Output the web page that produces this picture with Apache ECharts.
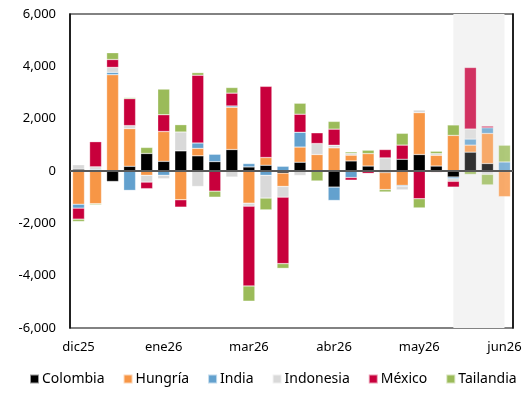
<!DOCTYPE html>
<html>
<head>
<meta charset="utf-8">
<script src="https://cdn.jsdelivr.net/npm/echarts@6/dist/echarts.min.js"></script>
<style>
  html, body { margin: 0; padding: 0; background: #fff; }
  #chart { width: 525px; height: 393px; }
</style>
</head>
<body>
<div id="chart"></div>
<script>
// Weekly flows by country (stacked), last three weeks shaded as estimates
const categories = ['w01','w02','w03','w04','w05','w06','w07','w08','w09','w10','w11','w12','w13',
                    'w14','w15','w16','w17','w18','w19','w20','w21','w22','w23','w24','w25','w26'];
const tickLabels = ['dic25', 'ene26', 'mar26', 'abr26', 'may26', 'jun26'];
const seriesNames = ['Colombia', 'Hungría', 'India', 'Indonesia', 'México', 'Tailandia'];

const colombia  = [70, 0, -400, 180, 670, 370, 770, 580, 360, 820, 155, 220, -80, 335, 0, -615, 385, 190, -60, 450, 630, 190, -230, 720, 285, -20];
const hungria   = [-1270, -1250, 3680, 1440, -165, 1140, -1100, 285, 0, 1615, -1230, 295, -510, 580, 630, 885, 220, 475, -650, -550, 1600, 410, 1360, 270, 1150, -960];
const india     = [-150, 60, 90, -740, 0, -165, 0, 205, 280, 50, 130, -165, 180, 565, 0, -510, -250, 0, 0, -40, 0, 0, -65, 230, 215, 345];
const indonesia = [170, 100, 190, 115, -260, -130, 720, -590, 0, -230, -115, -870, -410, -170, 420, 100, 65, 0, 500, -130, 100, 65, -100, 385, -130, 0];
const mexico    = [-420, 960, 300, 1030, -250, 640, -280, 2590, -770, 490, -3050, 2720, -2540, 690, 410, 615, -100, -90, 320, 540, -1060, -50, -220, 2350, 65, 0];
const tailandia = [-90, -40, 260, 40, 230, 980, 280, 100, -230, 215, -580, -450, -180, 420, -380, 295, 60, 130, -90, 450, -350, 90, 400, -130, -400, 640];

const values = [colombia, hungria, india, indonesia, mexico, tailandia];
const colors = ['#000000', '#F79646', '#63A1CE', '#D9D9D9', '#C8003C', '#9BBB59'];
const forecastStart = 23;

const fontFamily = 'Noto Sans, Arial, sans-serif';

const series = seriesNames.map((name, s) => {
  const item = {
    name: name,
    type: 'bar',
    stack: 'total',
    barCategoryGap: '30%',
    itemStyle: { color: colors[s], borderColor: 'rgba(255,255,255,0.6)', borderWidth: 0.5 },
    data: values[s].map((v, i) => ({
      value: v === 0 ? null : v,
      itemStyle: i >= forecastStart ? { opacity: 0.8 } : undefined
    }))
  };
  if (s === 0) {
    item.markArea = {
      silent: true,
      itemStyle: { color: '#F3F3F3' },
      data: [[{ xAxis: categories[forecastStart] }, { xAxis: categories[categories.length - 1] }]]
    };
    item.markLine = {
      silent: true,
      symbol: 'none',
      label: { show: false },
      lineStyle: { color: '#595959', width: 2, type: 'solid' },
      data: [{ yAxis: 0 }]
    };
  }
  return item;
});

const chart = echarts.init(document.getElementById('chart'), null, { renderer: 'canvas' });
chart.setOption({
  animation: false,
  backgroundColor: '#ffffff',
  textStyle: { fontFamily: fontFamily },
  grid: {
    left: 70, right: 12, top: 14, bottom: 65,
    show: true, borderColor: '#595959', borderWidth: 1.5, backgroundColor: 'transparent'
  },
  legend: {
    bottom: 2,
    left: 24,
    itemWidth: 9,
    itemHeight: 9,
    itemGap: 18,
    icon: 'rect',
    textStyle: { fontSize: 14, color: '#000', fontFamily: fontFamily, padding: [0, 0, 0, -2] },
    data: seriesNames
  },
  xAxis: {
    type: 'category',
    data: categories,
    axisLine: { show: false },
    axisTick: { show: false },
    axisLabel: {
      interval: 4,
      margin: 13,
      fontSize: 13,
      color: '#000',
      formatter: (v, i) => tickLabels[i / 5]
    }
  },
  yAxis: [{
    type: 'value',
    min: -6000,
    max: 6000,
    interval: 2000,
    splitLine: { show: false },
    axisTick: { show: false },
    axisLine: { show: true, lineStyle: { color: '#000', width: 1.5 } },
    axisLabel: {
      fontSize: 13,
      color: '#000',
      margin: 14,
      formatter: v => v.toLocaleString('en-US')
    }
  }, {
    type: 'value',
    position: 'right',
    min: -6000,
    max: 6000,
    interval: 2000,
    splitLine: { show: false },
    axisTick: { show: false },
    axisLabel: { show: false },
    axisLine: { show: true, lineStyle: { color: '#000', width: 1.5 } }
  }],
  series: series
});
</script>
</body>
</html>
